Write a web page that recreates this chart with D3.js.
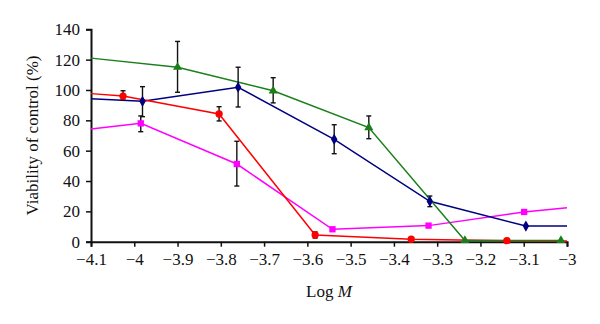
<!DOCTYPE html>
<html><head><meta charset="utf-8">
<script src="https://cdn.jsdelivr.net/npm/d3@7"></script>
<style>body{margin:0;background:#fff}svg{display:block}</style>
</head><body>
<svg id="c" width="600" height="324"></svg>
<script>
// ---- data ----
const xTicks = [-4.1,-4,-3.9,-3.8,-3.7,-3.6,-3.5,-3.4,-3.3,-3.2,-3.1,-3];
const yTicks = [0,20,40,60,80,100,120,140];

const greenX = [-4.1,-3.9,-3.679,-3.458,-3.236,-3.014];
const greenY = [121,115,99.5,75.2,0.8,0.8];
const greenUp = [0,17,8.6,7.7,0,0];
const greenDn = [0,16.5,8,7.3,0,0];

const redX = [-4.1,-4.026,-3.804,-3.582,-3.360,-3.139,-3.0];
const redY = [97.6,96.0,84.2,4.4,1.6,0.7,0.5];
const redUp = [0,3.5,4.8,2,0,0,0];
const redDn = [0,2.6,4.6,2,0,0,0];

const blueX = [-4.1,-3.981,-3.760,-3.538,-3.317,-3.095,-3.0];
const blueY = [94.3,92.5,101.8,67.5,26.6,10.3,10.3];
const blueUp = [0,9.7,13.2,9.6,3.5,0,0];
const blueDn = [0,10.1,13,9.5,3.5,0,0];

const magX = [-4.1,-3.985,-3.763,-3.542,-3.320,-3.099,-3.0];
const magY = [74.3,78.0,51.2,8.2,10.6,19.6,22.4];
const magUp = [0,4.9,15,0,0,0,0];
const magDn = [0,5.5,14.5,0,0,0,0];

const series = [
  {x:magX,y:magY,up:magUp,dn:magDn,color:"#ff00ff",sym:d3.symbolSquare,size:40},
  {x:blueX,y:blueY,up:blueUp,dn:blueDn,color:"#000080",sym:d3.symbolDiamond,size:36},
  {x:redX,y:redY,up:redUp,dn:redDn,color:"#ff0000",sym:d3.symbolCircle,size:42},
  {x:greenX,y:greenY,up:greenUp,dn:greenDn,color:"#1a7f1a",sym:d3.symbolTriangle,size:36}
];

// ---- layout ----
const svg = d3.select("#c");
const L=91,R=567,T=29.3,B=241.7;
const x = d3.scaleLinear().domain([-4.1,-3]).range([L,R]);
const y = d3.scaleLinear().domain([0,140]).range([B,T]);
const font = "'Liberation Serif','DejaVu Serif',serif";
const fmt = d => (d<0?"\u2212":"") + Math.abs(d);

const gx = svg.append("g").attr("transform",`translate(0,${B})`)
  .call(d3.axisBottom(x).tickValues(xTicks).tickSize(5).tickPadding(6).tickFormat(fmt));
const gy = svg.append("g").attr("transform",`translate(${L},0)`)
  .call(d3.axisLeft(y).tickValues(yTicks).tickSize(5).tickPadding(6));
[gx,gy].forEach(g=>{
  g.select(".domain").attr("stroke","#111").attr("stroke-width",2);
  g.selectAll(".tick line").attr("stroke","#111").attr("stroke-width",1.5);
  g.selectAll(".tick text").attr("fill","#111").style("font-family",font).style("font-size","17px");
});

// series
series.forEach(s=>{
  const pts = s.x.map((v,i)=>({x:v,y:s.y[i],up:s.up[i],dn:s.dn[i]}));
  svg.append("path").datum(pts)
    .attr("fill","none").attr("stroke",s.color).attr("stroke-width",1.5)
    .attr("d",d3.line().x(d=>x(d.x)).y(d=>y(d.y)));
});
series.forEach(s=>{
  const pts = s.x.map((v,i)=>({x:v,y:s.y[i],up:s.up[i],dn:s.dn[i]}));
  const eb = pts.filter(d=>d.up>0||d.dn>0);
  const g = svg.append("g").attr("stroke","#111").attr("stroke-width",1.4);
  eb.forEach(d=>{
    g.append("line").attr("x1",x(d.x)).attr("x2",x(d.x)).attr("y1",y(d.y+d.up)).attr("y2",y(d.y-d.dn));
    g.append("line").attr("x1",x(d.x)-2.5).attr("x2",x(d.x)+2.5).attr("y1",y(d.y+d.up)).attr("y2",y(d.y+d.up));
    g.append("line").attr("x1",x(d.x)-2.5).attr("x2",x(d.x)+2.5).attr("y1",y(d.y-d.dn)).attr("y2",y(d.y-d.dn));
  });
  svg.append("g").selectAll("path").data(pts.filter(d=>d.x>-4.1&&d.x<-3.0)).join("path")
    .attr("transform",d=>`translate(${x(d.x)},${y(d.y)})`)
    .attr("d",d3.symbol().type(s.sym).size(s.size))
    .attr("fill",s.color);
});

// axis titles
const xt = svg.append("text").attr("x",(L+R)/2).attr("y",297).attr("text-anchor","middle")
  .style("font-family",font).style("font-size","17px").attr("fill","#111");
xt.append("tspan").text("Log ");
xt.append("tspan").style("font-style","italic").text("M");

svg.append("text").attr("transform",`translate(38,${(T+B)/2}) rotate(-90)`)
  .attr("text-anchor","middle").style("font-family",font).style("font-size","17px").attr("fill","#111")
  .text("Viability of control (%)");
</script>
</body></html>
